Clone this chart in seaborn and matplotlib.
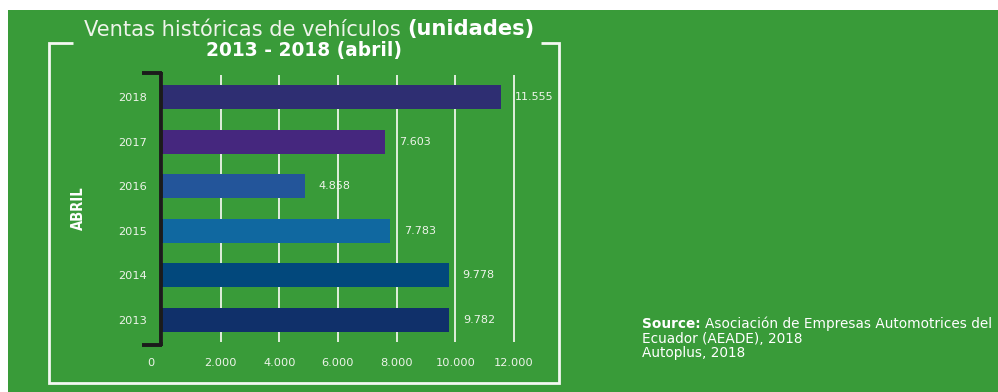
import matplotlib
matplotlib.use("Agg")
import matplotlib.pyplot as plt
import seaborn as sns
import pandas as pd
from matplotlib.lines import Line2D
from matplotlib.patches import Rectangle
from matplotlib.transforms import ScaledTranslation

# ---- data ----
years = ["2018", "2017", "2016", "2015", "2014", "2013"]
sales = [11555, 7603, 4858, 7783, 9778, 9782]
bar_colors = ["#2e2e72", "#45277e", "#23559a", "#1068a0", "#02487c", "#10306a"]
x_ticks = [0, 2000, 4000, 6000, 8000, 10000, 12000]
x_tick_labels = ["0", "2.000", "4.000", "6.000", "8.000", "10.000", "12.000"]
title_regular = "Ventas históricas de vehículos "
title_bold = "(unidades)"
subtitle = "2013 - 2018 (abril)"
side_label = "ABRIL"
source_bold = "Source: "
source_lines = ["Asociación de Empresas Automotrices del",
                "Ecuador (AEADE), 2018",
                "Autoplus, 2018"]

W, H = 998, 392
GREEN = "#399b39"
TXT = "#eef4ea"
FONT = "DejaVu Sans"

sns.set_theme(style="white")
plt.rcParams["font.family"] = [FONT]

fig = plt.figure(figsize=(W / 100, H / 100), dpi=100, facecolor="white")

def fx(x):
    return x / W

def fy(y):
    return 1 - y / H

# green background panel
fig.patches.append(Rectangle((fx(8), 0), 1 - fx(8), fy(10), transform=fig.transFigure,
                             facecolor=GREEN, edgecolor="none", zorder=-10))

# axes placement (pixel coordinates of the plotting region)
zero_px, px_per_unit = 162, 352 / 12000
left, right, top, bottom = 158, 520, 74.7, 342.3
ax = fig.add_axes([fx(left), fy(bottom), fx(right - left), (bottom - top) / H])
ax.patch.set_alpha(0)

df = pd.DataFrame({"anio": years, "ventas": sales})
sns.barplot(data=df, x="ventas", y="anio", hue="anio", order=years, hue_order=years,
            palette=bar_colors, legend=False, width=0.54, saturation=1,
            edgecolor="none", ax=ax, zorder=3)

ax.set_xlim((left - zero_px) / px_per_unit, (right - zero_px) / px_per_unit)
ax.set_xticks(x_ticks)
ax.set_xticklabels(x_tick_labels)
ax.set_xlabel("")
ax.set_ylabel("")
for s in ax.spines.values():
    s.set_visible(False)
ax.set_axisbelow(True)
ax.grid(axis="x", color="#eef4ea", lw=1.3)
ax.grid(axis="y", visible=False)
ax.tick_params(axis="x", length=0, pad=11, labelsize=8.2, labelcolor=TXT)
ax.tick_params(axis="y", length=0, pad=8, labelsize=8.2, labelcolor=TXT)
# shift the "0" label slightly left as in the reference
lab0 = ax.get_xticklabels()[0]
lab0.set_transform(lab0.get_transform() + ScaledTranslation(-11 / 100, 0, fig.dpi_scale_trans))

# value labels
for cont in ax.containers:
    ax.bar_label(cont, labels=[f"{v:,.0f}".replace(",", ".") for v in cont.datavalues],
                 padding=10, fontsize=8.0, color=TXT)

# black bracket on the zero line
bk = dict(color="#1b1b1b", lw=2.8, solid_capstyle="butt", transform=fig.transFigure)
fig.add_artist(Line2D([fx(161), fx(161)], [fy(72), fy(346)], **bk))
fig.add_artist(Line2D([fx(142), fx(162.4)], [fy(73), fy(73)], **bk))
fig.add_artist(Line2D([fx(142), fx(162.4)], [fy(345), fy(345)], **bk))

# white frame
fr = dict(color="#f4f8f2", lw=2.0, solid_capstyle="butt", solid_joinstyle="miter",
          transform=fig.transFigure)
fig.add_artist(Line2D([fx(73), fx(49), fx(49), fx(559), fx(559), fx(541)],
                      [fy(43), fy(43), fy(383), fy(383), fy(43), fy(43)], **fr))

# side label
fig.text(fx(78), fy(208), side_label, rotation=90, ha="center", va="center",
         fontsize=10.5, fontweight="bold", fontstretch="condensed",
         family="DejaVu Sans", color="white")

# titles (two-weight first line)
t1 = fig.text(0, fy(35.5), title_regular, fontsize=14, color=TXT, va="baseline", ha="left")
t2 = fig.text(0, fy(35.5), title_bold, fontsize=14, color="white", fontweight="bold",
              va="baseline", ha="left")
st = fig.text(fx(304), fy(56), subtitle, fontsize=12, color="white", fontweight="bold",
              va="baseline", ha="center")

s1 = fig.text(fx(642), fy(328), source_bold, fontsize=9, color="white", fontweight="bold",
              va="baseline", ha="left")
s2 = fig.text(0, fy(328), source_lines[0], fontsize=9, color="white", va="baseline", ha="left")
s3 = fig.text(fx(642), fy(343), source_lines[1], fontsize=9, color="white", va="baseline", ha="left")
s4 = fig.text(fx(642), fy(357), source_lines[2], fontsize=9, color="white", va="baseline", ha="left")

# fit text sizes to the widths seen in the reference
fig.canvas.draw()
r = fig.canvas.get_renderer()

def width(t):
    return t.get_window_extent(r).width

k = 452 / (width(t1) + width(t2))
for t in (t1, t2):
    t.set_fontsize(t.get_fontsize() * k)
st.set_fontsize(st.get_fontsize() * 195 / width(st))
ks = 348 / (width(s1) + width(s2))
for t in (s1, s2, s3, s4):
    t.set_fontsize(t.get_fontsize() * ks)

fig.canvas.draw()
w1, w2 = width(t1), width(t2)
x0 = 309.5 - (w1 + w2) / 2
t1.set_x(fx(x0))
t2.set_x(fx(x0 + w1))
s2.set_x(fx(642 + width(s1)))

fig.savefig("out.png", dpi=100, facecolor="white")
